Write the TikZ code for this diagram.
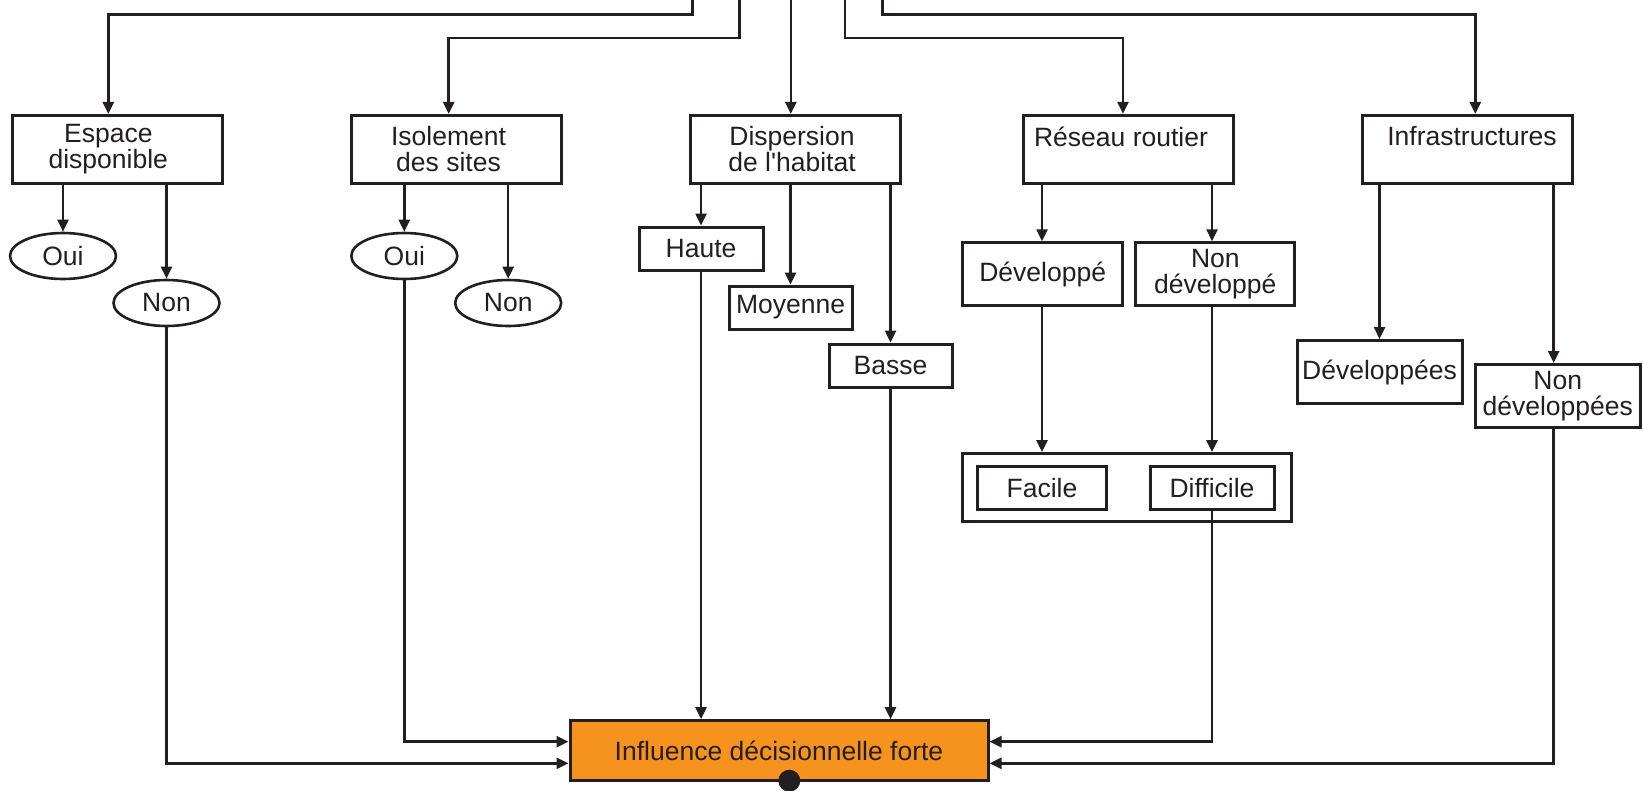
\documentclass[tikz,border=0pt]{standalone}
\usepackage{fontspec}
\setmainfont{Liberation Sans}[Ligatures=TeXOff]
\usetikzlibrary{arrows.meta, positioning, shapes.geometric}
\definecolor{ink}{RGB}{35,31,32}
\definecolor{forte}{RGB}{246,146,30}

\begin{document}
\begin{tikzpicture} [x = 1pt, y = -1pt, -> , >= {Triangle[length=12pt, width=11pt]}, line width = 2.5pt, color = ink,
  box/.style = {draw, rectangle, line width = 3pt, align = center, inner sep = 0pt, font = \fontsize{26.5}{26}\selectfont},
  crit/.style = {box, minimum width = 210pt, minimum height = 68pt},
  oval/.style = {draw, ellipse, line width = 2.6pt, inner sep = 0pt, minimum width = 106pt, minimum height = 46pt, font = \fontsize{26.5}{26}\selectfont}]

\useasboundingbox (0, 0) rectangle (1643, 790);

\coordinate (top1) at (692.6, 0);
\coordinate (top2) at (739.5, 0);
\coordinate (top3) at (790.8, 0);
\coordinate (top4) at (845, 0);
\coordinate (top5) at (882.5, 0);

\node [crit] (espace) at (117.3, 149.4) {Espace\hspace*{18pt}\\disponible\hspace*{18pt}};
\node [crit] (isolement) at (456, 149.4) {Isolement\hspace*{15pt}\\des sites\hspace*{15pt}};
\node [crit] (dispersion) at (795.5, 149.4) {Dispersion\hspace*{7pt}\\de l'habitat\hspace*{7pt}};
\node [crit] (reseau) at (1128, 149.4) {Réseau routier\hspace*{14pt}\\~};
\node [crit] (infra) at (1467, 149.4) {\hspace*{10pt}Infrastructures\\~};

\draw (top1) -- ++(0, 14.5) -| ([xshift = -9pt] espace.north);
\draw (top2) -- ++(0, 38) -| ([xshift = -7.3pt] isolement.north);
\draw (top3) -- (top3 |- dispersion.north);
\draw (top4) -- ++(0, 38) -| ([xshift = -5pt] reseau.north);
\draw (top5) -- ++(0, 14.5) -| ([xshift = 8.3pt] infra.north);

\node [oval] (oui1) at (63, 256) {Oui};
\node [oval] (non1) at (166.5, 303) {Non};
\node [oval] (oui2) at (404.3, 256) {Oui};
\node [oval] (non2) at (508.2, 303) {Non};

\path (espace.south -| oui1) edge (oui1);
\path (espace.south -| non1) edge (non1);
\path (isolement.south -| oui2) edge (oui2);
\path (isolement.south -| non2) edge (non2);

\node [box, minimum width = 124pt, minimum height = 43pt] (haute) at (701, 248.5) {Haute};
\node [box, minimum width = 123pt, minimum height = 43pt] (moyenne) at (790.5, 307.5) {Moyenne};
\node [box, minimum width = 123pt, minimum height = 43pt] (basse) at (890.5, 365.5) {Basse};

\path (dispersion.south -| haute) edge (haute);
\path (dispersion.south -| moyenne) edge (moyenne);
\path (dispersion.south -| basse) edge (basse);

\node [box, minimum width = 160pt, minimum height = 62.5pt] (developpe) at (1042.7, 274) {Développé};
\node [box, minimum width = 159pt, minimum height = 62.5pt] (nondev) at (1215.3, 274) {Non\\développé};

\node [draw, line width = 3pt, minimum width = 329pt, minimum height = 67.5pt] (routes) at (1126.5, 487.3) {};
\node [box, minimum width = 129pt, minimum height = 43pt] (facile) at (1042, 488.3) {Facile};
\node [box, minimum width = 124pt, minimum height = 43pt] (difficile) at (1212, 488.3) {Difficile};

\draw (reseau.south -| facile) -- (developpe.north -| facile);
\draw (reseau.south -| difficile) -- (nondev.north -| difficile);
\draw (developpe.south -| facile) -- (routes.north -| facile);
\draw (nondev.south -| difficile) -- (routes.north -| difficile);

\node [box, minimum width = 165pt, minimum height = 63pt] (devs) at (1379.5, 372) {Développées};
\node [box, minimum width = 165pt, minimum height = 63pt] (nondevs) at (1557.7, 396) {Non\\développées};

\path (infra.south -| devs) edge (devs);
\draw ([xshift = -4pt] infra.south -| nondevs) -- ([xshift = -4pt] nondevs.north);

\node [box, fill = forte, minimum width = 418pt, minimum height = 60pt] (influence) at (779, 750.7) {Influence décisionnelle forte};

\draw (non1) |- (influence.west |- 0, 763.3);
\draw (oui2) |- (influence.west |- 0, 741.7);
\draw (haute) -- (haute |- influence.north);
\draw (basse) -- (basse |- influence.north);
\draw (difficile) |- (influence.east |- 0, 741.7);
\draw ([xshift = -4pt] nondevs.south) |- (influence.east |- 0, 763.3);

\node [circle, fill = ink, inner sep = 0pt, minimum size = 22pt] (dot) at (789.3, 780.7) {};

\end{tikzpicture}
\end{document}
